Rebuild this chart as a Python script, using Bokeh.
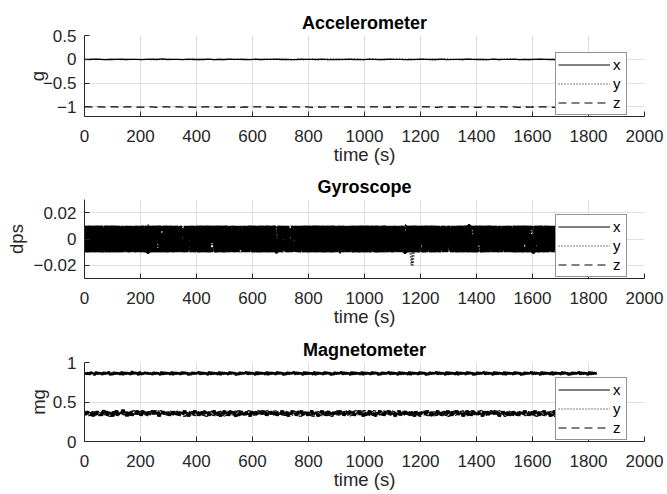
import numpy as np
from bokeh.plotting import figure
from bokeh.layouts import column
from bokeh.models import FixedTicker, Legend, LegendItem, Range1d
from bokeh.embed import file_html
from bokeh.resources import INLINE

# ---------------------------------------------------------------- data
T_END = 1830.0                      # length of the recording, seconds
X_TICKS = [0, 200, 400, 600, 800, 1000, 1200, 1400, 1600, 1800, 2000]
SERIES = ["x", "y", "z"]

# accelerometer, g  (digit d -> base + d*step)
ACC_STEP = 0.004
ACC_X = ("5465345645535647455364546354655436455645346554635456453654465534"
         "565446355465453645563545654463554645")
ACC_Y = ("4556465345546354645536455463546554364565453564465534654563545654"
         "365445635465544635654536455463546545")
ACC_Z = ("5546455365445635546454365546453546554364554635465545364556453654"
         "465536454654356455463545654365455464")
ACC_BASE = {"x": -0.02, "y": -0.02, "z": -1.02}

# gyroscope, dps, quantised to 0.01
GYRO_LEVELS = {"v": -0.02, "-": -0.01, "0": 0.0, "+": 0.01}
GYRO_X = ("+-0+-+0-+-0+-+-0+-+0-+0-+-+0-+-0+-+-+0-+-0+-+0-+-"
          "-+0-+-+0+-0-+-+0-+0+-+-0+-0-+-+0+-+-0+-+-0+0-+-+0"
          "+0-+-+-0+-+0-+0-+-+-0+0-+-+-0+-0+-+0-+-+0-+-0+-+-"
          "0-+-+0+-+-0-+0+-+-+0-+-0+-+0-+-0+-+-+0-+0-+-+-0+-"
          "+-+0-+-0+-+-+0-+0-+-0+-+0-+-+-0+-+0-+0-+-+0-+-0+-"
          "-0+-+-+0-+-0+0-+-+0-+-+0-+-0+-+-0+0-+-+-0+-+0-+-+"
          "+-0-+-+0+-+-0+-+0-+-+-0+-0+-+0-+-0+-+-+0-+0+-+-0-"
          "-+0+-+-0-+-+0+-+0-+-0+-+-+0-+-0+-+0-+-+-0+-0+-+0-")
GYRO_Y = ("0+-+-0-+0+-+-+0-+-0+-+0+-+-0-+-+0+-+-0+-+-+0-+0-+"
          "+-+0-+0-+-+-0+-+0-+-0+-+-+0-+0-+-+0+-0+-+-0+-+-+0"
          "-+-0+-+0+-+-0+-+-+0-+-0+0-+-+0-+-+0-+-0+-+-+0+-+-"
          "+0-+-+0-+-0+-+-+0-+0+-+-0-+-+0+-+-0+-+-+0-+-0+-+-"
          "-+-+0-+0+-+-0+-+-0+-+-+0-+0-+-0+-+-+0-+-0+-+0-+-+"
          "+-0+-v-+0-+-+0-+-0+-+0-+-+-0+-+0-+0-+-+-0+-+0-+-+"
          "0-+-+0+-+-0-+-+0+-+-+0-+-0+0-+-+0-+-0+-+-+0-+0-+-"
          "+-+-0+-+0-+-+-0+-+0-+-0+-+-+0+-+-0-+-+0-+-+0-+-0+")
GYRO_Z = ("-+0-+-+0-+0+-+-0+-+-+0-+-0+-+0+-+-0-+-+0+-+-+0-+-"
          "+-0+-+0-+-+-0+-+0+-+-0-+-+0+-+-+0-+-0+-+0-+-+-0+-"
          "0+-+-0+-+-+0-+0-+-+0-+-0+-+-+0+-+-0-+-+0-+-+0-+0-"
          "-+-+0-+-0+-+0-+-+-0+-+0+-+-0+-+-+0-+-0+-+0-+-+-0+"
          "+0-+-+-0+-+0-+-0+-+-+0-+0+-+-0-+-+0+-+-0+-+-+0-+-"
          "-+-0+-+-+0-+0-+-+0+-+-0+-+-+0-+-0+-+0-+-+-0+-+0+-"
          "+-+0-+-0+-+-+0-+0+-+-0-+-+0+-+-+0-+-0+-+0-+-+-0+-"
          "0-+-+0+-+-0+-+-+0-+-0+-+0-+-+0+-+-0+-+-+0-+-0+-+-")

# magnetometer, mg  (digit d -> base + d*step)
MAG_X = ("45362754183645273648152736452817364529374618253746"
         "35427364518273645281736452837461527364582736451827"
         "36452817364528374615273645827364518273645281736452"
         "83746152736458273645182736452817364528374615273645"
         "82736451827364528173645283746152736458273645182736"
         "45281736452837461527364582736451827364528173645283"
         "74615273645827364518273645281736452837461527364582"
         "73645182736452817364528374615273645827364518273645")
MAG_Y = ("46352748163527483625174836257483625174835627483615"
         "27483625748362517483627548361527483625748362517483"
         "62574836251748362574836152748362517483625748362574"
         "83625174836257483615274836251748362574836251748362"
         "57483625174836257483615274836251748362574836251748"
         "36257483625174836257483615274836251748362574836251"
         "74836257483625174836257483615274836251748362574836"
         "25174836257483625174836257483615274836251748362574")
MAG_Z = ("53746251837462584736251748362594718362574836257483"
         "62574836152748362517483625748361527483625174836257"
         "48362517483625748316257483625174836257483625174836"
         "25748362517483625748361527483625174836257483625748"
         "36251748362574836152748362517483625748362517483625"
         "74836251748362574831625748362517483625748362517483"
         "62574836251748362574836152748362517483625748362517"
         "48362574836251748362574836152748362517483625748362")
MAG_BASE = {"x": 0.835, "y": 0.31, "z": 0.31}
MAG_STEP = {"x": 0.006, "y": 0.01, "z": 0.01}


def from_digits(s, base, step):
    return [round(base + step * int(c), 4) for c in s]


def from_levels(s):
    return [GYRO_LEVELS[c] for c in s]


acc = {"x": from_digits(ACC_X, ACC_BASE["x"], ACC_STEP),
       "y": from_digits(ACC_Y, ACC_BASE["y"], ACC_STEP),
       "z": from_digits(ACC_Z, ACC_BASE["z"], ACC_STEP)}
gyro = {"x": from_levels(GYRO_X), "y": from_levels(GYRO_Y), "z": from_levels(GYRO_Z)}
mag = {k: from_digits(s, MAG_BASE[k], MAG_STEP[k])
       for k, s in (("x", MAG_X), ("y", MAG_Y), ("z", MAG_Z))}

# ---------------------------------------------------------------- style
FONT = "Liberation Sans"
INK = "#262626"
GRID = "#dfdfdf"
DASH = {"x": "solid", "y": "1 2", "z": "8 5"}


def panel(title, ylabel, ylabel_standoff, yr, yticks, data, height, top,
          bottom, trace_width):
    p = figure(width=667, height=height,
               x_range=Range1d(0, 2000), y_range=Range1d(*yr),
               output_backend="svg", toolbar_location=None,
               min_border_left=84, min_border_right=23,
               min_border_top=top, min_border_bottom=bottom)
    p.outline_line_color = None
    p.background_fill_color = "white"
    p.border_fill_color = "white"

    p.title.text = title
    p.title.align = "center"
    p.title.text_font = FONT
    p.title.text_font_size = "18px"
    p.title.text_font_style = "bold"
    p.title.text_color = "#000000"
    p.title.standoff = 6

    for ax in (p.xaxis[0], p.yaxis[0]):
        ax.axis_line_color = INK
        ax.major_tick_line_color = INK
        ax.major_tick_in = 5
        ax.major_tick_out = 0
        ax.minor_tick_line_color = None
        ax.major_label_text_font = FONT
        ax.major_label_text_font_size = "17px"
        ax.major_label_text_color = INK
        ax.axis_label_text_font = FONT
        ax.axis_label_text_font_size = "18.5px"
        ax.axis_label_text_font_style = "normal"
        ax.axis_label_text_color = INK

    p.xaxis.ticker = FixedTicker(ticks=X_TICKS)
    p.xaxis.axis_label = "time (s)"
    p.xaxis.major_label_standoff = 13
    p.xaxis.axis_label_standoff = -1

    p.yaxis.ticker = FixedTicker(ticks=yticks)
    p.yaxis.axis_label = ylabel
    p.yaxis.major_label_standoff = 8
    p.yaxis.axis_label_standoff = ylabel_standoff

    p.xgrid.ticker = FixedTicker(ticks=X_TICKS)
    p.ygrid.ticker = FixedTicker(ticks=yticks)
    for g in (p.xgrid[0], p.ygrid[0]):
        g.grid_line_color = GRID
        g.grid_line_width = 1

    items = []
    for name in SERIES:
        vals = data[name]
        t = np.linspace(0.0, T_END, len(vals))
        p.line(t, vals, line_color="#000000", line_width=trace_width[name],
               line_dash=DASH[name])
        # thin key line for the legend (one empty point, nothing drawn)
        key = p.line(x=[np.nan], y=[np.nan], line_color="#000000",
                     line_width=1, line_dash=DASH[name])
        items.append(LegendItem(label=name, renderers=[key]))

    leg = Legend(items=items, location=(471, 1), margin=0,
                 border_line_color=INK, border_line_width=1,
                 background_fill_color="white", background_fill_alpha=1.0,
                 label_text_font=FONT, label_text_font_size="15px",
                 label_text_color="#000000",
                 glyph_width=52, glyph_height=19, label_height=19,
                 label_width=11, label_standoff=3, padding=2, spacing=0)
    p.add_layout(leg, "center")
    return p


p1 = panel("Accelerometer", "g", -8, (-1.2, 0.5), [-1, -0.5, 0, 0.5], acc,
           169, 35, 53, {"x": 1.3, "y": 1.3, "z": 1.3})
p2 = panel("Gyroscope", "dps", 3, (-0.03, 0.03), [-0.02, 0, 0.02], gyro,
           162, 30, 53, {"x": 3.5, "y": 3, "z": 3})
p3 = panel("Magnetometer", "mg", 1, (0, 1), [0, 0.5, 1], mag,
           163, 31, 53, {"x": 2.5, "y": 3.5, "z": 3.5})

layout = column(p1, p2, p3, spacing=0)
open("out.html", "w").write(file_html(layout, INLINE))
